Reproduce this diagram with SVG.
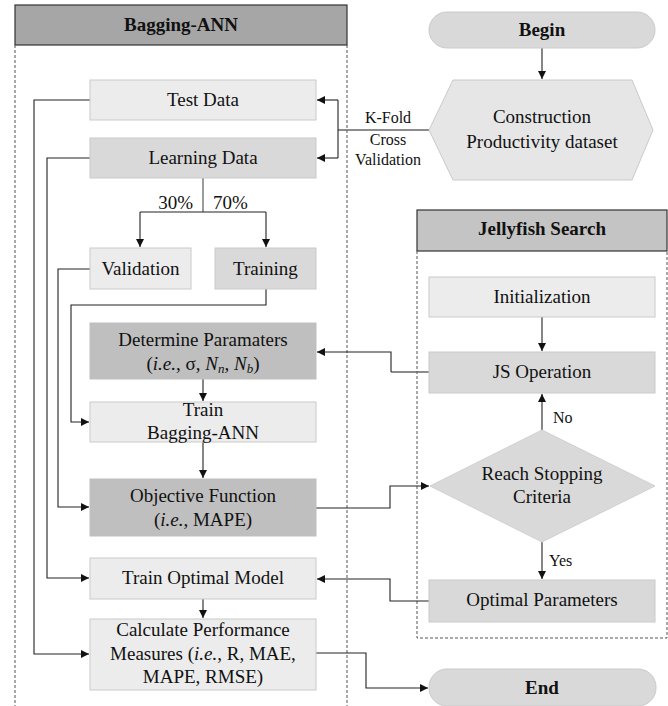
<svg xmlns="http://www.w3.org/2000/svg" width="668" height="706" viewBox="0 0 668 706">
<style>
text{font-family:'Liberation Serif',Tinos,'Times New Roman',Times,'DejaVu Serif','Noto Serif',serif;fill:#111;text-anchor:middle}
.t{font-size:19px}
.s{font-size:16px}
.b{font-size:19px;font-weight:bold}
.l{fill:#ececec;stroke:#cacaca;stroke-width:1}
.m{fill:#d9d9d9;stroke:#cacaca;stroke-width:1}
.d{fill:#bfbfbf;stroke:#bfbfbf;stroke-width:1}
.hdr{stroke:#333;stroke-width:1.2}
.dash{fill:none;stroke:#555;stroke-width:1;stroke-dasharray:3,2}
.c{fill:none;stroke:#222;stroke-width:1.1}
.g{fill:none;stroke:#666;stroke-width:1.3}
</style>
<defs>
<marker id="ah" viewBox="0 0 10 10" refX="10" refY="5" markerWidth="8" markerHeight="8" markerUnits="userSpaceOnUse" orient="auto">
<path d="M0,0 L10,5 L0,10 z" fill="#111"/>
</marker>
</defs>

<g id="bagging-panel">
<rect x="15" y="5" width="332" height="40" fill="#a6a6a6" class="hdr"/>
<text class="b" x="181" y="31">Bagging-ANN</text>
<path class="dash" d="M15,45 V706 M347,45 V706"/>
</g>

<g id="jellyfish-panel">
<rect x="417" y="210" width="250" height="41" fill="#c4c4c4" class="hdr"/>
<text class="b" x="542" y="235">Jellyfish Search</text>
<path class="dash" d="M417,251 V638 H667 V251"/>
</g>

<g id="connectors">
<path class="c" d="M542,48 V79" marker-end="url(#ah)"/>
<path class="g" d="M429,130 H338"/>
<path class="c" d="M338,100 V158" />
<path class="c" d="M338,100 H317" marker-end="url(#ah)"/>
<path class="c" d="M338,158 H317" marker-end="url(#ah)"/>
<path class="g" d="M203,178 V212"/>
<path class="c" d="M140,212 H266"/>
<path class="c" d="M140,212 V247" marker-end="url(#ah)"/>
<path class="c" d="M266,212 V247" marker-end="url(#ah)"/>
<path class="c" d="M90,100 H34 V654 H89" marker-end="url(#ah)"/>
<path class="c" d="M90,158 H47 V578 H89" marker-end="url(#ah)"/>
<path class="c" d="M90,269 H58 V507 H89" marker-end="url(#ah)"/>
<path class="c" d="M266,289 V305 H71 V422 H89" marker-end="url(#ah)"/>
<path class="g" d="M429,372 H391"/>
<path class="c" d="M391,372 V352 H317" marker-end="url(#ah)"/>
<path class="c" d="M203,379 V401" marker-end="url(#ah)"/>
<path class="c" d="M203,442 V478" marker-end="url(#ah)"/>
<path class="c" d="M316,508 H390 V486 H429" marker-end="url(#ah)"/>
<path class="c" d="M542,317 V351" marker-end="url(#ah)"/>
<path class="c" d="M542,430 V394" marker-end="url(#ah)"/>
<path class="c" d="M542,542 V579" marker-end="url(#ah)"/>
<path class="c" d="M429,601 H390 V579 H317" marker-end="url(#ah)"/>
<path class="c" d="M203,599 V618" marker-end="url(#ah)"/>
<path class="c" d="M316,653 H366 V688 H428" marker-end="url(#ah)"/>
<text class="t" x="193" y="209" style="text-anchor:end">30%</text>
<text class="t" x="213" y="209" style="text-anchor:start">70%</text>
<text class="s" x="388" y="123">K-Fold</text>
<text class="s" x="388" y="145">Cross</text>
<text class="s" x="388" y="165">Validation</text>
<text class="s" x="553" y="423" style="text-anchor:start">No</text>
<text class="s" x="549" y="566" style="text-anchor:start">Yes</text>
</g>

<g id="begin">
<rect x="429" y="12" width="226" height="36" rx="18" class="m"/>
<text class="b" x="542" y="36">Begin</text>
</g>

<g id="dataset">
<polygon points="429,130 453,80 632,80 653,130 632,180 453,180" fill="#e6e6e6" stroke="#cacaca"/>
<text class="t" x="542" y="123">Construction</text>
<text class="t" x="542" y="148">Productivity dataset</text>
</g>

<g id="test-data">
<rect x="90" y="80" width="226" height="40" class="l"/>
<text class="t" x="203" y="106">Test Data</text>
</g>

<g id="learning-data">
<rect x="90" y="138" width="226" height="40" class="m"/>
<text class="t" x="203" y="164">Learning Data</text>
</g>

<g id="validation">
<rect x="90" y="248" width="101" height="41" class="l"/>
<text class="t" x="140.5" y="275">Validation</text>
</g>

<g id="training">
<rect x="215" y="248" width="101" height="41" class="m"/>
<text class="t" x="265.5" y="275">Training</text>
</g>

<g id="determine-parameters">
<rect x="90" y="323" width="226" height="56" class="d"/>
<text class="t" x="203" y="346">Determine Paramaters</text>
<text class="t" x="203" y="370">(<tspan font-style="italic">i.e.</tspan>, σ, <tspan font-style="italic">N</tspan><tspan font-style="italic" font-size="13" dy="3">n</tspan><tspan dy="-3">, </tspan><tspan font-style="italic">N</tspan><tspan font-style="italic" font-size="13" dy="3">b</tspan><tspan dy="-3">)</tspan></text>
</g>

<g id="train-bagging">
<rect x="90" y="402" width="226" height="40" class="l"/>
<text class="t" x="203" y="416">Train</text>
<text class="t" x="203" y="439">Bagging-ANN</text>
</g>

<g id="objective-function">
<rect x="90" y="479" width="226" height="57" class="d"/>
<text class="t" x="203" y="502">Objective Function</text>
<text class="t" x="203" y="526">(<tspan font-style="italic">i.e.</tspan>, MAPE)</text>
</g>

<g id="train-optimal">
<rect x="90" y="558" width="226" height="41" class="l"/>
<text class="t" x="203" y="584">Train Optimal Model</text>
</g>

<g id="performance">
<rect x="90" y="619" width="226" height="71" class="l"/>
<text class="t" x="203" y="636">Calculate Performance</text>
<text class="t" x="203" y="660">Measures (<tspan font-style="italic">i.e.</tspan>, R, MAE,</text>
<text class="t" x="203" y="683">MAPE, RMSE)</text>
</g>

<g id="initialization">
<rect x="429" y="277" width="226" height="40" class="l"/>
<text class="t" x="542" y="303">Initialization</text>
</g>

<g id="js-operation">
<rect x="429" y="352" width="226" height="41" class="m"/>
<text class="t" x="542" y="378">JS Operation</text>
</g>

<g id="stopping-criteria">
<polygon points="430,486 542,430 655,486 542,542" fill="#d9d9d9" stroke="#d0d0d0"/>
<text class="t" x="542" y="480">Reach Stopping</text>
<text class="t" x="542" y="503">Criteria</text>
</g>

<g id="optimal-parameters">
<rect x="429" y="580" width="226" height="42" class="m"/>
<text class="t" x="542" y="606">Optimal Parameters</text>
</g>

<g id="end">
<rect x="429" y="669" width="227" height="37" rx="18" class="m"/>
<text class="b" x="542" y="694">End</text>
</g>
</svg>
